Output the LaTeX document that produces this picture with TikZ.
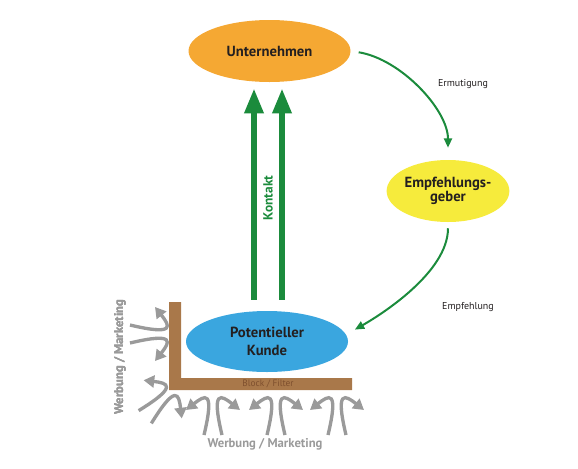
\documentclass[tikz,border=0pt]{standalone}
\usepackage{fontspec}
\setmainfont{PT Sans}
\usetikzlibrary{shapes.geometric,arrows.meta,calc}

\definecolor{orangeU}{HTML}{F5A833}
\definecolor{yellowE}{HTML}{F6EB3C}
\definecolor{blueK}{HTML}{3AA6DF}
\definecolor{greenA}{HTML}{1B8B3C}
\definecolor{brownB}{HTML}{A9784A}
\definecolor{brownT}{HTML}{7E4F2E}
\definecolor{grayW}{HTML}{9A9A9A}
\definecolor{textdark}{HTML}{231F20}

\tikzset{
  ell/.style={ellipse, inner sep=0pt, align=center, text=textdark},
  thinarr/.style={draw=greenA, line width=1.5pt, -{Triangle[width=6pt,length=7pt]}},
  kontakt/.style={draw=greenA, line width=4.5pt, -{Triangle[width=13.5pt,length=18.75pt]}},
  warr/.style={draw=grayW, line width=2.5pt, -{Triangle[width=9pt,length=8pt]}},
  wtext/.style={text=grayW, font=\bfseries\fontsize{9.5}{12}\selectfont}
}

% pair of Werbung arrows: #1 position, #2 rotation
\newcommand{\wpair}[2]{%
  \begin{scope}[shift={#1}, rotate=#2]
    \draw[warr] (-9,0) .. controls (2,-46) and (-8,-40) .. (-27,-25);
    \draw[warr] (9,0) .. controls (-2,-46) and (8,-40) .. (27,-25);
  \end{scope}}

\begin{document}
\begin{tikzpicture}[x=0.75pt,y=0.75pt,yscale=-1,xscale=1]
\useasboundingbox (0,0) rectangle (578,468);

% Block / Filter
\fill[brownB] (169,302) -- (181,302) -- (181,378) -- (352,378) -- (352,390) -- (169,390) -- cycle;
\node[text=brownT, font=\fontsize{7}{8}\selectfont] (block) at (268,384) {Block / Filter};

% Ellipse Nodes
\node[ell, fill=orangeU, minimum width=121.5pt, minimum height=46.5pt, font=\bfseries\fontsize{11}{13}\selectfont] (unt) at (269.5,51) {Unternehmen};
\node[ell, fill=yellowE, minimum width=82.5pt, minimum height=46.5pt, font=\bfseries\fontsize{11}{10}\selectfont] (emp) at (448,191) {Empfehlungs-\\geber};
\node[ell, fill=blueK, minimum width=121.5pt, minimum height=45.75pt, font=\bfseries\fontsize{11}{13}\selectfont] (kunde) at (267,341.5) {Potentieller\\Kunde};

% Green Arrows
\draw[thinarr, shorten <=6pt, shorten >=9pt] (unt.east) .. controls +(50,8) and +(0,-50) .. (emp.north);
\draw[thinarr, shorten <=4.5pt, shorten >=7.5pt] (emp.south) .. controls +(0,50) and +(35,-20) .. (kunde.5);
\coordinate (k1) at ($(kunde.north)+(-13,-11)$);
\coordinate (k2) at ($(kunde.north)+(15,-11)$);
\draw[kontakt, shorten >=4.5pt] (k1) -- (k1 |- unt.south);
\draw[kontakt, shorten >=4.5pt] (k2) -- (k2 |- unt.south);

% Text Node
\node[font=\fontsize{7.5}{8}\selectfont, text=textdark] (ermut) at (463,84) {Ermutigung};
\node[font=\fontsize{7.5}{8}\selectfont, text=textdark] (empf) at (468,307) {Empfehlung};
\node[rotate=90, text=greenA, font=\bfseries\fontsize{10}{12}\selectfont] (kontlab) at (268,198) {Kontakt};

% Werbung / Marketing
\wpair{(130,334)}{90}
\wpair{(145,417)}{45}
\foreach \px in {213,276,337}
  \wpair{(\px,435)}{0}
\node[wtext, rotate=90] (wleft) at (120,357) {Werbung / Marketing};
\node[wtext] (wbottom) at (265,444) {Werbung / Marketing};

\end{tikzpicture}
\end{document}
